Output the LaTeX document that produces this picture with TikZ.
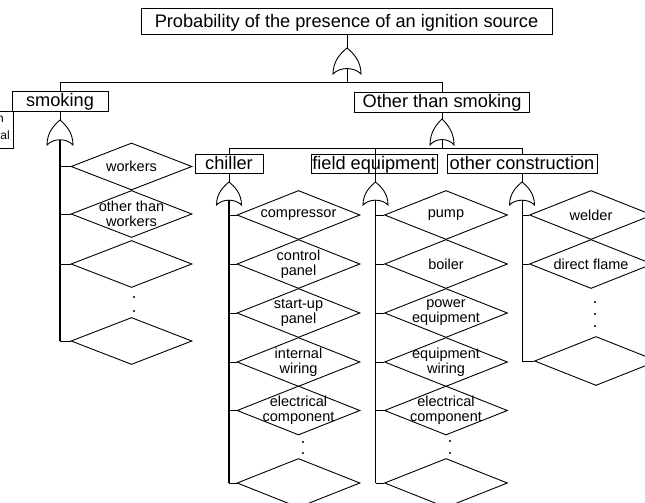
\documentclass[tikz,border=0pt]{standalone}
\usepackage{fontspec}
\setmainfont{Liberation Sans}
\usetikzlibrary{shapes.geometric}
\newcommand{\orgate}[5]{%
  \begin{scope}[shift={(#2,#3)}, xscale=#4, yscale=#5]
    \draw[gateline] (0,0) .. controls (0.45,0.2) and (1,0.5) .. (1,1)
      .. controls (0.5,0.72) and (-0.5,0.72) .. (-1,1)
      .. controls (-1,0.5) and (-0.45,0.2) .. (0,0) -- cycle;
    \coordinate (#1t) at (0,0);
    \coordinate (#1b) at (0,0.79);
  \end{scope}}
\begin{document}
\begin{tikzpicture}[x=1pt,y=-1pt,
  box/.style={draw, line width=0.9pt, inner sep=0pt, text height=13pt, text depth=1.5pt, font=\fontsize{18.2}{20}\selectfont},
  dia/.style={shape=diamond, draw, line width=0.9pt, inner sep=0pt, minimum width=123, minimum height=49},
  dtext/.style={align=center, inner sep=0pt, font=\fontsize{14.5}{15}\selectfont},
  gateline/.style={line width=0.9pt},
  conn/.style={line width=0.9pt},
  spine/.style={line width=1.3pt},
  dotmark/.style={fill=black}]
\useasboundingbox (0,0) rectangle (645,503);

% boxes
\node[box, minimum width=411, minimum height=26] (top) at (346.5,21.5) {Probability of the presence of an ignition source};
\node[box, minimum width=96, minimum height=20] (smoking) at (60,101) {smoking};
\node[box, minimum width=175, minimum height=20] (other) at (442,102) {Other than smoking};
\node[box, minimum width=68, minimum height=19] (chiller) at (229,163.5) {chiller};
\node[box, minimum width=126, minimum height=19] (field) at (374,163.5) {field equipment};
\node[box, minimum width=150, minimum height=19] (oc) at (522,163.5) {other construction};

% partially visible box at the left edge
\draw[conn] (-40,111) rectangle (13.5,148);
\node[anchor=base east, inner sep=0pt, font=\fontsize{12}{13}\selectfont] (pl1) at (4,122) {n};
\node[anchor=base east, inner sep=0pt, font=\fontsize{12}{13}\selectfont] (pl2) at (10,139) {al};

% gates
\orgate{g0}{347}{48}{14}{26}
\orgate{gs}{60}{120}{13}{25}
\orgate{go}{442}{119}{12}{26}
\orgate{gc}{229}{182}{12.5}{23}
\orgate{gf}{375.5}{182}{12.5}{23}
\orgate{gk}{522}{182}{12.5}{23}

% top level connectors
\coordinate (j0) at (347,82);
\draw[conn] (g0t |- top.south) -- (g0t);
\draw[conn] (g0b) -- (j0);
\draw[conn] (j0) -| (smoking.north);
\draw[conn] (j0) -| (other.north);
\draw[conn] (smoking.south) -- (gst);
\draw[conn] (other.south) -- (got);

\coordinate (j1) at (442,148);
\draw[conn] (gob) -- (j1);
\draw[conn] (j1) -| (chiller.north);
\draw[conn] (j1) -| (gft);
\draw[conn] (j1) -| (oc.north);
\draw[conn] (chiller.south) -- (gct);
\draw[conn] (oc.south) -- (gkt);

% smoking column
\node[dia, minimum width=121, minimum height=47, label={[dtext]center:workers}] (s1) at (131.5,166.5) {};
\node[dia, minimum width=121, minimum height=47, label={[dtext]center:other than\\workers}] (s2) at (131.5,214) {};
\node[dia, minimum width=121, minimum height=47] (s3) at (131.5,264) {};
\node[dia, minimum width=121, minimum height=47] (s4) at (131.5,341) {};
\draw[spine] (gsb) -- (gsb |- s4.west);
\foreach \d in {s1,s2,s3,s4} \draw[conn] (gsb |- \d.west) -- (\d.west);
\fill[dotmark] (134,297) circle (1.1) (134,311) circle (1.1);

% chiller column
\node[dia, label={[dtext]center:compressor}] (c1) at (298.5,215) {};
\node[dia, label={[dtext]center:control\\panel}] (c2) at (298.5,264) {};
\node[dia, label={[dtext]center:start-up\\panel}] (c3) at (298.5,313) {};
\node[dia, label={[dtext]center:internal\\wiring}] (c4) at (298.5,362) {};
\node[dia, label={[dtext]center:electrical\\component}] (c5) at (298.5,410.5) {};
\node[dia] (c6) at (298.5,483) {};
\draw[spine] (gcb) -- (gcb |- c6.west);
\foreach \d in {c1,c2,c3,c4,c5,c6} \draw[conn] (gcb |- \d.west) -- (\d.west);
\fill[dotmark] (303,442) circle (1.1) (303,453) circle (1.1);

% field equipment column
\node[dia, label={[dtext]center:pump}] (f1) at (446,215) {};
\node[dia, label={[dtext]center:boiler}] (f2) at (446,264) {};
\node[dia, label={[dtext]center:power\\equipment}] (f3) at (446,313) {};
\node[dia, label={[dtext]center:equipment\\wiring}] (f4) at (446,362) {};
\node[dia, label={[dtext]center:electrical\\component}] (f5) at (446,410.5) {};
\node[dia] (f6) at (446,483) {};
\draw[spine] (gfb) -- (gfb |- f6.west);
\foreach \d in {f1,f2,f3,f4,f5,f6} \draw[conn] (gfb |- \d.west) -- (\d.west);
\fill[dotmark] (450,441) circle (1.1) (450,453) circle (1.1);

% other construction column
\node[dia, label={[dtext]center:welder}] (k1) at (591,215) {};
\node[dia, label={[dtext]center:direct flame}] (k2) at (591,264) {};
\node[dia] (k3) at (596,361) {};
\draw[conn] (gkb) -- (gkb |- k3.west);
\foreach \d in {k1,k2,k3} \draw[conn] (gkb |- \d.west) -- (\d.west);
\fill[dotmark] (595,302) circle (1.1) (595,314) circle (1.1) (595,326) circle (1.1);
\end{tikzpicture}
\end{document}
